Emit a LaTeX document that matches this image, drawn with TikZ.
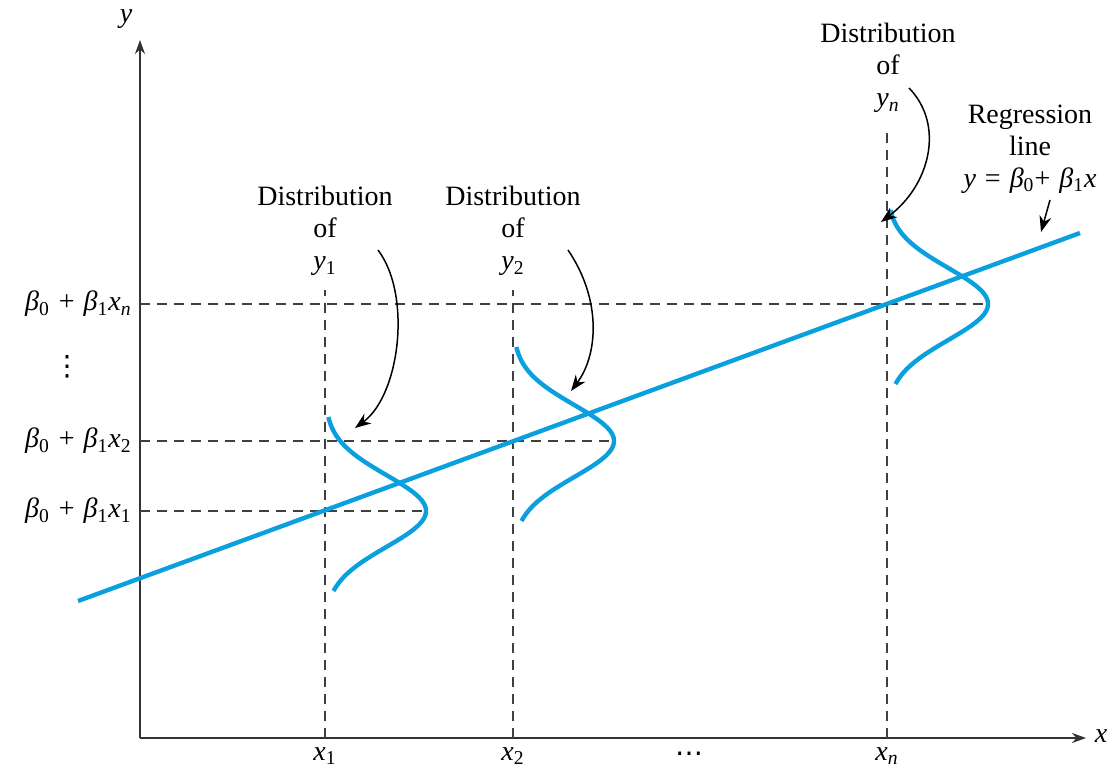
\documentclass[tikz,border=0pt]{standalone}
\usepackage{fontspec}
\setmainfont{Liberation Serif}
\newfontfamily\symfnt{DejaVu Sans}
\usetikzlibrary{arrows.meta, positioning, calc}

\newcommand{\bsub}[1]{\textit{β}\textsubscript{#1}}
\newcommand{\vsub}[2]{\textit{#1}\textsubscript{#2}}
\newcommand{\sep}{\hspace{4.5pt}}

\begin{document}
\begin{tikzpicture}[
      x=0.5pt, y=-0.5pt,
      font=\fontsize{14}{16}\selectfont,
      axis/.style={draw=black!80, line width=1pt, -{Stealth[length=7pt, width=5pt]}},
      guide/.style={draw=black!75, line width=0.6pt, dash pattern=on 5pt off 3.5pt},
      reg/.style={draw=regblue, line width=2.2pt},
      lbl/.style={align=center, inner sep=1pt},
      dots/.style={inner sep=0pt, font=\fontsize{14}{15}\symfnt},
      arr/.style={-{Stealth[length=8pt, width=6pt]}, line width=0.75pt}
    ]
    \definecolor{regblue}{RGB}{10,160,222}
    \useasboundingbox (0,0) rectangle (1112,770);

    % Axes
    \coordinate (o) at (140,738);
    \coordinate (ytop) at (140,40);
    \coordinate (xend) at (1086,738);
    \draw[axis] (o) -- (ytop);
    \draw[axis] (o) -- (xend);
    \node[lbl, font=\fontsize{14}{16}\selectfont\itshape] (ylab) at (126,19) {y};
    \node[lbl, font=\fontsize{14}{16}\selectfont\itshape] (xlab) at (1101,736) {x};

    % Points on the regression line
    \coordinate (p1) at (325,511);
    \coordinate (p2) at (513,441);
    \coordinate (pn) at (887,304);

    % Dashed guides
    \coordinate (h1) at (140,511);
    \coordinate (h2) at (140,441);
    \coordinate (hn) at (140,304);
    \coordinate (e1) at (422,511);
    \coordinate (e2) at (610,441);
    \coordinate (en) at (984,304);
    \coordinate (v1) at (325,738);
    \coordinate (v2) at (513,738);
    \coordinate (vn) at (887,738);
    \coordinate (t1) at (325,290);
    \coordinate (t2) at (513,290);
    \coordinate (tn) at (887,128);
    \draw[guide] (h1) -- (e1);
    \draw[guide] (h2) -- (e2);
    \draw[guide] (hn) -- (en);
    \draw[guide] (v1) -- (t1);
    \draw[guide] (v2) -- (t2);
    \draw[guide] (vn) -- (tn);

    % Regression line
    \coordinate (r0) at (78,601);
    \coordinate (r1) at (1080,233);
    \draw[reg] (r0) -- (r1);

    % Distributions
    \foreach \px/\py in {325/511, 513/441, 887/304}
      \draw[reg] plot[domain=-94:80, samples=70, smooth]
        ({\px + 101*exp(-(\x)^2/2592)}, {\py + \x});

    % Left labels
    \node[lbl, anchor=east] (bn) at (134,304) {\bsub{0}\sep+\sep\bsub{1}\vsub{x}{\textit{n}}};
    \node[dots] (vdots) at (67,367) {⋮};
    \node[lbl, anchor=east] (b2) at (134,441) {\bsub{0}\sep+\sep\bsub{1}\vsub{x}{2}};
    \node[lbl, anchor=east] (b1) at (134,511) {\bsub{0}\sep+\sep\bsub{1}\vsub{x}{1}};

    % x labels
    \node[lbl] (x1) at (325,756) {\vsub{x}{1}};
    \node[lbl] (x2) at (513,756) {\vsub{x}{2}};
    \node[dots] (xdots) at (689,757) {⋯};
    \node[lbl] (xn) at (887,756) {\vsub{x}{\textit{n}}};

    % Distribution labels
    \node[lbl] (d1) at (325,231) {Distribution\\of\\\vsub{y}{1}};
    \node[lbl] (d2) at (513,231) {Distribution\\of\\\vsub{y}{2}};
    \node[lbl] (dn) at (888,68) {Distribution\\of\\\vsub{y}{\textit{n}}};
    \node[lbl] (rl) at (1030,149) {Regression\\line\\\textit{y}\sep=\sep\bsub{0}+\sep\bsub{1}\textit{x}};

    % Arrows
    \coordinate (a1) at (378,250);
    \coordinate (b1e) at (355,428);
    \coordinate (a2) at (568,250);
    \coordinate (b2e) at (571,391);
    \coordinate (an) at (909,88);
    \coordinate (bne) at (881,222);
    \coordinate (ar) at (1050,200);
    \coordinate (bre) at (1041,232);
    \draw[arr] (a1) .. controls (412,295) and (400,395) .. (b1e);
    \draw[arr] (a2) .. controls (602,300) and (598,355) .. (b2e);
    \draw[arr] (an) .. controls (945,125) and (930,185) .. (bne);
    \draw[arr] (ar) -- (bre);
  \end{tikzpicture}
\end{document}
